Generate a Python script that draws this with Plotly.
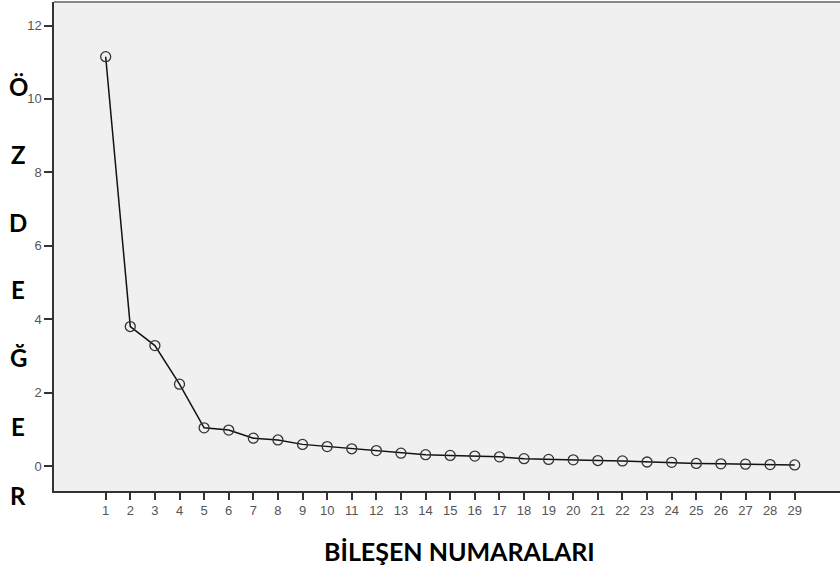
import plotly.graph_objects as go

components = list(range(1, 30))
eigenvalues = [11.15, 3.80, 3.28, 2.23, 1.04, 0.98, 0.76, 0.71, 0.59, 0.53, 0.47,
               0.42, 0.35, 0.31, 0.29, 0.27, 0.25, 0.20, 0.18, 0.17, 0.15, 0.14,
               0.11, 0.10, 0.07, 0.06, 0.05, 0.04, 0.03]
y_ticks = [0, 2, 4, 6, 8, 10, 12]
y_title_letters = ["Ö", "Z", "D", "E", "Ğ", "E", "R"]
x_title = "BİLEŞEN NUMARALARI"

fig = go.Figure()
fig.add_trace(go.Scatter(
    x=components, y=eigenvalues, mode="lines+markers",
    line=dict(color="#111111", width=1.5),
    marker=dict(symbol="circle-open", size=10, color="#333333", line=dict(width=1.3)),
    showlegend=False, hoverinfo="x+y",
))

font_ticks = dict(family="Liberation Sans, Arial, sans-serif", size=13, color="#555555")

fig.update_layout(
    width=840, height=567,
    margin=dict(l=54, r=0, t=2, b=76),
    paper_bgcolor="white", plot_bgcolor="#f0f0f0",
    xaxis=dict(range=[-1.10, 30.84], tickmode="array", tickvals=components,
               ticktext=[str(c) for c in components], ticks="outside", ticklen=7,
               tickwidth=1.5, tickcolor="#333333", showline=True, linecolor="#333333",
               linewidth=1.5, showgrid=False, zeroline=False, tickfont=font_ticks),
    yaxis=dict(range=[-0.68, 12.64], tickmode="array", tickvals=y_ticks,
               ticks="outside", ticklen=8, tickwidth=1.5, tickcolor="#333333",
               showline=True, linecolor="#333333", linewidth=1.5, showgrid=False,
               zeroline=False, tickfont=font_ticks),
)

fig.add_shape(type="line", xref="paper", yref="paper", x0=0, x1=1, y0=1, y1=1,
              line=dict(color="#888888", width=2))

letter_y = [85, 152, 220, 288, 355, 424, 493]
for letter, py in zip(y_title_letters, letter_y):
    fig.add_annotation(text=letter, xref="paper", yref="paper",
                       x=(18 - 54) / 786, y=(489 - py) / 489,
                       showarrow=False, xanchor="center", yanchor="middle",
                       font=dict(family="Lato, Open Sans, sans-serif", size=24,
                                 color="black", weight="bold"))

fig.add_annotation(text=x_title, xref="paper", yref="paper",
                   x=(459 - 54) / 786, y=(489 - 549) / 489, showarrow=False,
                   xanchor="center", yanchor="middle",
                   font=dict(family="Lato, Open Sans, sans-serif", size=25,
                             color="black", weight="bold"))

fig.write_html("out.html", config={"displayModeBar": False},
               post_script="document.body.style.margin='0';")
